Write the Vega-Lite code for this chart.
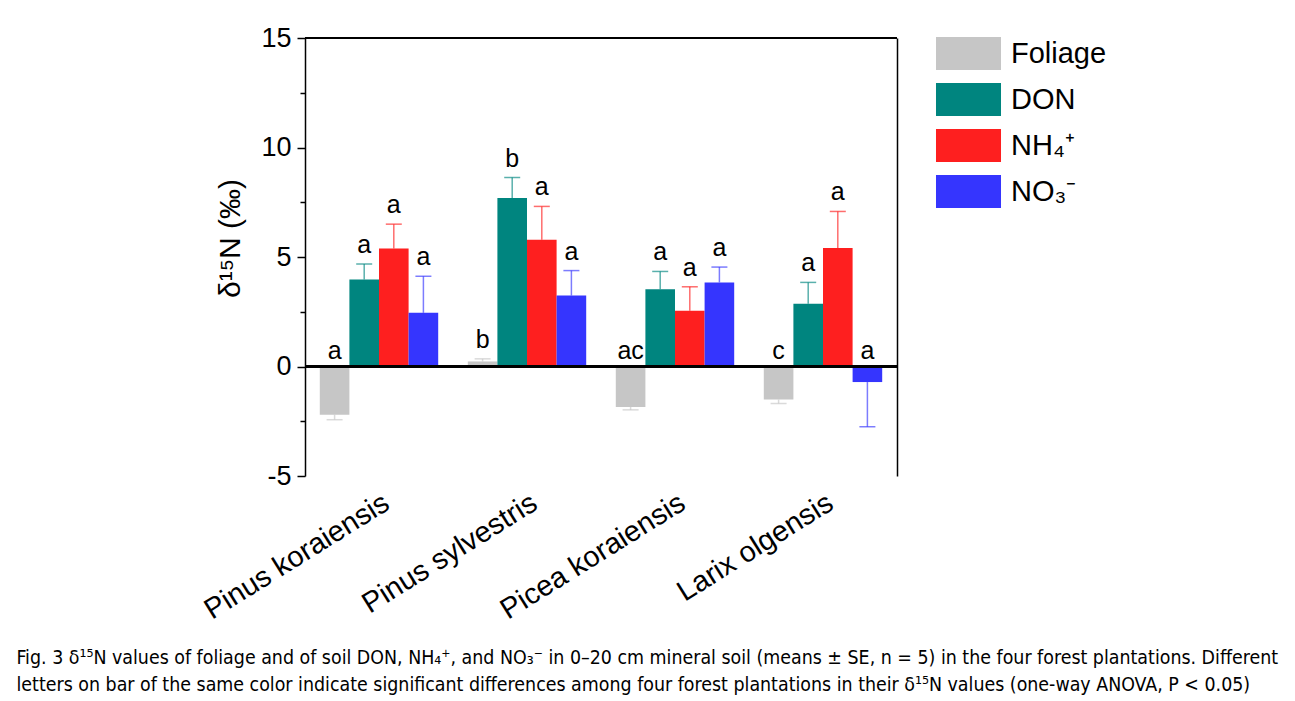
{
  "$schema": "https://vega.github.io/schema/vega-lite/v6.json",
  "width": 592,
  "height": 438,
  "autosize": {"type": "none"},
  "padding": {"left": 305, "top": 38, "right": 398, "bottom": 225},
  "background": "white",
  "config": {
    "view": {"stroke": null},
    "font": "Liberation Sans",
    "axis": {"grid": false}
  },
  "data": {
    "values": [
      {"site": "Pinus koraiensis", "series": "Foliage", "mean": -2.2, "err": -2.43, "letter": "a"},
      {"site": "Pinus koraiensis", "series": "DON", "mean": 3.97, "err": 4.68, "letter": "a"},
      {"site": "Pinus koraiensis", "series": "NH₄⁺", "mean": 5.39, "err": 6.5, "letter": "a"},
      {"site": "Pinus koraiensis", "series": "NO₃⁻", "mean": 2.45, "err": 4.12, "letter": "a"},
      {"site": "Pinus sylvestris", "series": "Foliage", "mean": 0.23, "err": 0.35, "letter": "b"},
      {"site": "Pinus sylvestris", "series": "DON", "mean": 7.69, "err": 8.63, "letter": "b"},
      {"site": "Pinus sylvestris", "series": "NH₄⁺", "mean": 5.79, "err": 7.31, "letter": "a"},
      {"site": "Pinus sylvestris", "series": "NO₃⁻", "mean": 3.24, "err": 4.38, "letter": "a"},
      {"site": "Picea koraiensis", "series": "Foliage", "mean": -1.85, "err": -1.98, "letter": "ac"},
      {"site": "Picea koraiensis", "series": "DON", "mean": 3.53, "err": 4.34, "letter": "a"},
      {"site": "Picea koraiensis", "series": "NH₄⁺", "mean": 2.54, "err": 3.64, "letter": "a"},
      {"site": "Picea koraiensis", "series": "NO₃⁻", "mean": 3.84, "err": 4.54, "letter": "a"},
      {"site": "Larix olgensis", "series": "Foliage", "mean": -1.51, "err": -1.69, "letter": "c"},
      {"site": "Larix olgensis", "series": "DON", "mean": 2.87, "err": 3.84, "letter": "a"},
      {"site": "Larix olgensis", "series": "NH₄⁺", "mean": 5.41, "err": 7.08, "letter": "a"},
      {"site": "Larix olgensis", "series": "NO₃⁻", "mean": -0.71, "err": -2.75, "letter": "a"}
    ]
  },
  "resolve": {"axis": {"y": "independent"}},
  "layer": [
    {
      "encoding": {
        "x": {
          "field": "site",
          "type": "nominal",
          "sort": ["Pinus koraiensis", "Pinus sylvestris", "Picea koraiensis", "Larix olgensis"],
          "scale": {"paddingInner": 0.2, "paddingOuter": 0.1},
          "axis": {
            "orient": "bottom",
            "domain": false,
            "ticks": false,
            "labelAngle": -32,
            "labelFontSize": 29,
            "labelColor": "black",
            "labelPadding": 12,
            "labelLimit": 0,
            "title": [
              "Fig. 3 δ¹⁵N values of foliage and of soil DON, NH₄⁺, and NO₃⁻ in 0–20 cm mineral soil (means ± SE, n = 5) in the four forest plantations. Different",
              "letters on bar of the same color indicate significant differences among four forest plantations in their δ¹⁵N values (one-way ANOVA, P < 0.05)"
            ],
            "titleFont": "DejaVu Sans Condensed, Liberation Sans Narrow, Roboto Condensed, Liberation Sans",
            "titleFontSize": 19.4,
            "titleFontWeight": "normal",
            "titleColor": "black",
            "titleLineHeight": 27,
            "titleX": -289,
            "titleY": 187,
            "titleAlign": "left",
            "titleAnchor": "start",
            "titleBaseline": "alphabetic",
            "titleLimit": 3000
          }
        },
        "xOffset": {"field": "series", "type": "nominal", "sort": ["Foliage", "DON", "NH₄⁺", "NO₃⁻"]},
        "color": {
          "field": "series",
          "type": "nominal",
          "sort": ["Foliage", "DON", "NH₄⁺", "NO₃⁻"],
          "scale": {"domain": ["Foliage", "DON", "NH₄⁺", "NO₃⁻"], "range": ["#c6c6c6", "#00857f", "#fe1f1f", "#3535fe"]},
          "legend": {
            "orient": "none",
            "legendX": 647,
            "legendY": -1,
            "title": null,
            "symbolType": "M-1.97,-1H1.97V1H-1.97Z",
            "symbolSize": 1089,
            "symbolStrokeWidth": 0,
            "symbolOpacity": 1,
            "labelFontSize": 29,
            "labelColor": "black",
            "labelOffset": 26,
            "rowPadding": 13,
            "labelFont": "Liberation Sans"
          }
        }
      },
      "resolve": {"axis": {"y": "independent"}},
      "layer": [
        {
          "mark": {"type": "bar"},
          "encoding": {
            "y": {
              "field": "mean",
              "type": "quantitative",
              "scale": {"domain": [-5, 15], "nice": false, "zero": false},
              "axis": {
                "orient": "left",
                "values": [-5, -2.5, 0, 2.5, 5, 7.5, 10, 12.5, 15],
                "labelExpr": "datum.value % 5 === 0 ? toString(datum.value) : ''",
                "tickSize": {"condition": {"test": "datum.value % 5 !== 0", "value": 5}, "value": 8},
                "tickColor": "black",
                "tickWidth": 1.5,
                "domainColor": "black",
                "domainWidth": 1.5,
                "labelFontSize": 27,
                "labelColor": "black",
                "labelPadding": 6,
                "title": "δ¹⁵N (‰)",
                "titleFontSize": 30,
                "titleFontWeight": "normal",
                "titleColor": "black",
                "titleX": -90,
                "titleY": 200,
                "titleBaseline": "top",
                "titleAlign": "center"
              }
            }
          }
        },
        {
          "mark": {"type": "rule", "strokeWidth": 1.5, "opacity": 0.65},
          "encoding": {
            "y": {"field": "mean", "type": "quantitative", "axis": null},
            "y2": {"field": "err"}
          }
        },
        {
          "mark": {"type": "tick", "size": 16, "thickness": 1.5, "opacity": 0.65},
          "encoding": {
            "y": {
              "field": "err",
              "type": "quantitative",
              "axis": {"orient": "right", "labels": false, "ticks": false, "domain": true, "domainColor": "black", "domainWidth": 1.5, "title": null}
            }
          }
        },
        {
          "transform": [{"filter": "datum.mean >= 0"}],
          "mark": {"type": "text", "fontSize": 25, "dy": -11, "baseline": "alphabetic", "color": "black"},
          "encoding": {
            "y": {"field": "err", "type": "quantitative", "axis": null},
            "text": {"field": "letter"},
            "color": {"value": "black"}
          }
        },
        {
          "transform": [{"filter": "datum.mean < 0"}],
          "mark": {"type": "text", "fontSize": 25, "dy": -8, "baseline": "alphabetic", "color": "black"},
          "encoding": {
            "y": {"datum": 0, "type": "quantitative", "axis": null},
            "text": {"field": "letter"},
            "color": {"value": "black"}
          }
        }
      ]
    },
    {
      "mark": {"type": "rule", "color": "black", "strokeWidth": 2},
      "encoding": {"y": {"datum": 0, "type": "quantitative", "axis": null}}
    },
    {
      "mark": {"type": "rule", "color": "black", "strokeWidth": 1.5},
      "encoding": {"y": {"datum": 15, "type": "quantitative", "axis": null}}
    }
  ]
}
